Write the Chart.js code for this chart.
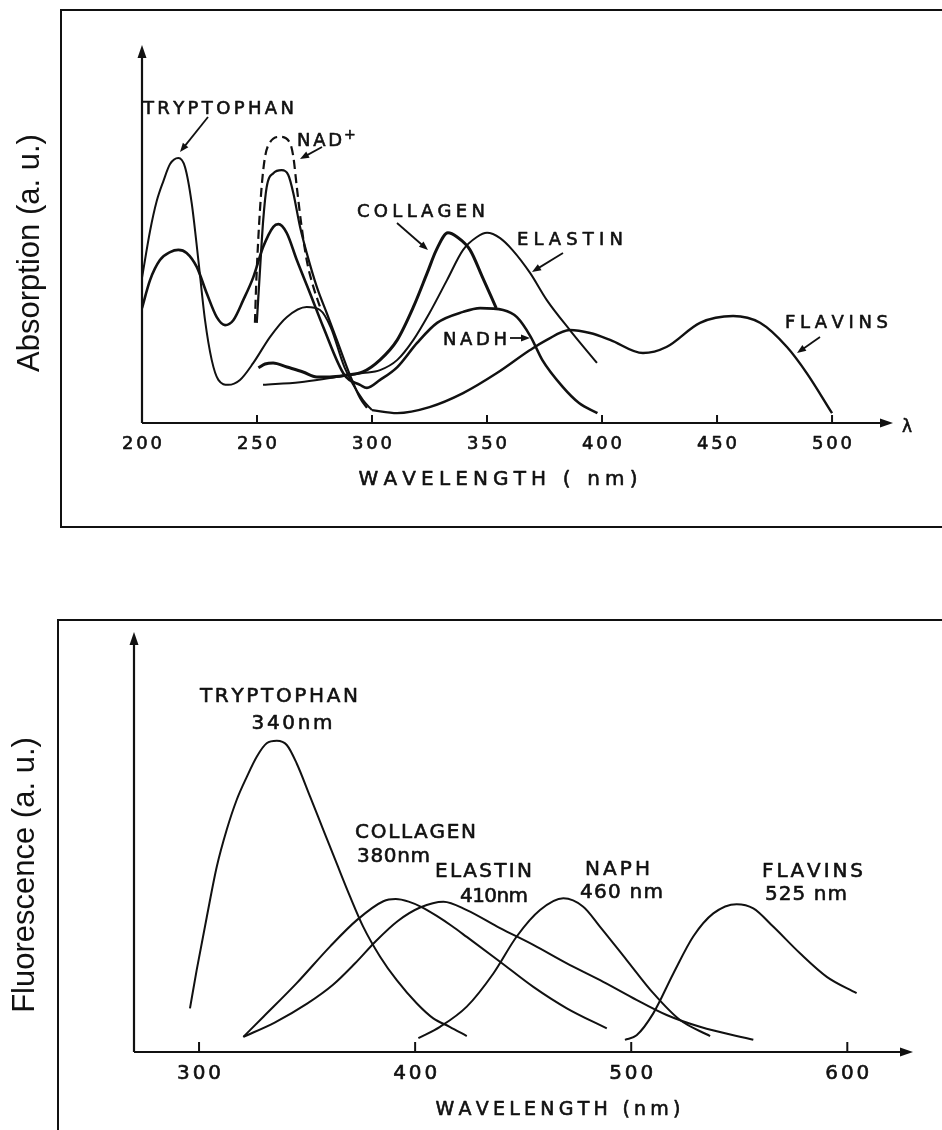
<!DOCTYPE html>
<html>
<head>
<meta charset="utf-8">
<script src="https://cdn.jsdelivr.net/npm/chart.js@4.4.1/dist/chart.umd.min.js"></script>
<style>
  html, body { margin: 0; padding: 0; background: #fff; }
  body { width: 942px; height: 1130px; position: relative; overflow: hidden; }
  .frame { position: absolute; border: 2.5px solid #111; box-sizing: border-box; }
  canvas { position: absolute; left: 0; }
</style>
</head>
<body>
<div class="frame" style="left:60px; top:9px; width:920px; height:519px;"></div>
<div class="frame" style="left:57px; top:619px; width:920px; height:620px;"></div>
<canvas id="abs" width="942" height="540" style="top:0"></canvas>
<canvas id="flu" width="942" height="590" style="top:540px"></canvas>
<script>
// ---------- Absorption spectra (wavelength in nm, absorption in a.u.) ----------
const absTicks = [200, 250, 300, 350, 400, 450, 500];

const trpAbsNm = [200, 203.5, 206.4, 209.3, 212.2, 215.8, 218.7, 221.6, 224.5, 227.4, 230.3, 233.2, 237.5, 242.6, 248.4, 255.7, 262.9, 271.6, 277.4, 282, 288, 296, 300];
const trpAbs   = [38.4, 50.8, 58.7, 64.0, 68.5, 70.1, 67.7, 58.2, 43.1, 27.2, 16.7, 11.4, 10.1, 11.4, 15.9, 22.8, 28.0, 30.7, 29.9, 25.4, 14.8, 6.1, 3.4];

const nadhAbsNm = [200, 203.5, 207.8, 212.2, 215.8, 219.4, 223.8, 228.1, 232.5, 236.1, 239.7, 244, 248.4, 252.7, 257.1, 259.3, 262.9, 267.3, 273, 278.8, 288, 294.8, 297.8, 303.5, 311, 319.6, 328.3, 339.6, 347, 357, 363, 369, 374, 383, 390, 398];
const nadhAbs   = [30.4, 37.8, 43.1, 45.2, 45.8, 45.0, 41.3, 34.4, 28.0, 25.9, 27.2, 32.5, 38.6, 46.6, 51.9, 52.6, 50.3, 43.1, 34.4, 25.4, 12.7, 10.1, 9.3, 11.4, 14.8, 21.2, 26.5, 29.4, 30.4, 29.9, 28.0, 22.8, 16.7, 9.5, 5.3, 2.6];

const nadAbsNm = [249.9, 251.3, 252.7, 254.2, 257.1, 260.7, 263.6, 265.8, 268.7, 271.6, 276, 280.3, 284.7, 290.4, 294.8, 297.8];
const nadAbs   = [26.5, 40.5, 53.7, 62.4, 66.1, 66.9, 65.6, 60.8, 51.9, 45.0, 36.0, 29.1, 22.0, 12.7, 6.6, 4.0];

const nadDashNm = [249.1, 249.6, 250.6, 252, 253.5, 255.7, 260, 264.3, 265.8, 267.3, 269.4, 271.6, 274.5, 277.4];
const nadDash   = [26.5, 36.0, 49.2, 62.4, 70.4, 74.3, 75.7, 74.1, 70.4, 62.4, 51.9, 43.1, 36.0, 30.7];

const colAbsNm = [250.6, 253.5, 257, 263, 270, 276, 281.7, 289, 296, 303.5, 311, 318, 324, 328, 333, 337, 342.6, 348, 354];
const colAbs   = [14.6, 15.6, 15.9, 14.8, 13.5, 12.2, 12.2, 12.7, 13.5, 16.7, 22.0, 30.7, 39.7, 45.8, 50.3, 49.2, 45.8, 38.6, 30.4];

const elaAbsNm = [252.6, 268.7, 281.7, 290.4, 296, 303.5, 311, 318, 325, 332.6, 339.6, 345.6, 350, 355.7, 361, 368.7, 376, 386, 397.8];
const elaAbs   = [10.1, 10.8, 11.9, 12.7, 13.2, 14.0, 16.7, 22.0, 29.1, 37.8, 45.8, 49.2, 50.3, 48.9, 45.8, 39.7, 32.5, 24.6, 15.9];

const flaAbsNm = [300, 310.9, 325, 339.6, 354.3, 368.7, 376, 386, 394.8, 403.5, 417.8, 428, 442.6, 457, 468.7, 480.4, 489, 500];
const flaAbs   = [3.4, 2.6, 4.2, 7.9, 13.2, 19.3, 22.0, 24.6, 23.8, 22.0, 18.5, 20.1, 26.5, 28.3, 26.5, 20.1, 13.2, 2.6];

// ---------- Fluorescence spectra (wavelength in nm, fluorescence in a.u.) ----------
const fluTicks = [300, 400, 500, 600];

const trpFluNm = [295.8, 298.9, 303.6, 308.2, 312.8, 317.4, 322.1, 326.7, 331.3, 336, 340.6, 345.2, 351.4, 357.5, 363.7, 369.9, 376, 383.8, 391.5, 400.7, 408.4, 416, 423.9];
const trpFlu   = [10.4, 19.5, 32.2, 44.1, 52.9, 60.0, 65.5, 70.3, 73.5, 74.1, 73.1, 68.7, 60.8, 52.9, 44.9, 37.0, 29.8, 22.7, 17.1, 11.6, 8.0, 6.0, 3.8];

const colFluNm = [320.5, 329.8, 345.2, 360.6, 373, 385.3, 391, 397, 403, 410, 417, 423.9, 439.3, 454.7, 470.2, 488.7];
const colFlu   = [3.6, 8.4, 16.4, 25.1, 31.4, 35.9, 36.4, 35.8, 34.5, 32.4, 30.0, 27.4, 21.5, 15.5, 10.4, 5.6];

const elaFluNm = [320.5, 335, 350, 362, 372, 382, 392, 402.3, 413.1, 423.9, 439.3, 454.7, 470.2, 485.6, 501, 516.4, 531.8, 556.5];
const elaFlu   = [3.6, 7.0, 11.5, 16.0, 21.0, 26.5, 31.2, 34.4, 35.8, 33.8, 29.5, 25.5, 21.1, 17.1, 12.8, 8.8, 6.0, 2.9];

const naphFluNm = [401.5, 411.5, 423.9, 436.2, 447, 457.8, 468.6, 477.8, 485.6, 497.9, 510.2, 522.6, 536.5];
const naphFlu   = [3.3, 6.0, 10.8, 18.7, 27.5, 33.8, 36.6, 34.6, 29.8, 21.9, 14.0, 7.6, 3.8];

const flaFluNm = [497.1, 502.5, 510.2, 519.5, 528.7, 538, 548.8, 556.5, 565.8, 578.1, 590.5, 604.3];
const flaFlu   = [2.9, 4.0, 9.2, 18.7, 27.5, 33.0, 35.2, 34.2, 29.8, 23.5, 17.9, 14.0];

const INK = '#111';
const LETTER_FONT = '"DejaVu Sans", sans-serif';

function pts(xs, ys) { return xs.map((x, i) => ({ x, y: ys[i] })); }

function series(xs, ys, extra) {
  return Object.assign({
    data: pts(xs, ys), borderColor: INK, borderWidth: 2, pointRadius: 0,
    cubicInterpolationMode: 'monotone', fill: false
  }, extra || {});
}

// Draw a string with its letters spread so that it spans the given width.
function spacedText(ctx, str, x, y, width, align) {
  const chars = [...str];
  const widths = chars.map(c => ctx.measureText(c).width);
  const natural = widths.reduce((a, b) => a + b, 0);
  const sp = (chars.length > 1 && width) ? (width - natural) / (chars.length - 1) : 0;
  const total = natural + sp * (chars.length - 1);
  let cx = align === 'center' ? x - total / 2 : align === 'right' ? x - total : x;
  ctx.textAlign = 'left';
  ctx.lineWidth = 0.6;
  ctx.lineJoin = 'round';
  chars.forEach((c, i) => {
    ctx.fillText(c, cx, y);
    ctx.strokeText(c, cx, y);
    cx += widths[i] + sp;
  });
}

function arrowHead(ctx, x, y, ang, len, half) {
  ctx.beginPath();
  ctx.moveTo(x, y);
  ctx.lineTo(x - len * Math.cos(ang) + half * Math.sin(ang), y - len * Math.sin(ang) - half * Math.cos(ang));
  ctx.lineTo(x - len * Math.cos(ang) - half * Math.sin(ang), y - len * Math.sin(ang) + half * Math.cos(ang));
  ctx.closePath();
  ctx.fill();
}

function pointer(ctx, x1, y1, x2, y2) {
  const a = Math.atan2(y2 - y1, x2 - x1);
  ctx.lineWidth = 1.8;
  ctx.beginPath();
  ctx.moveTo(x1, y1);
  ctx.lineTo(x2 - 5 * Math.cos(a), y2 - 5 * Math.sin(a));
  ctx.stroke();
  arrowHead(ctx, x2, y2, a, 9, 3.5);
}

// Axes with arrows, inward ticks, tick labels, titles and callouts.
const decorPlugin = {
  id: 'decor',
  afterDraw(chart, args, o) {
    const ctx = chart.ctx;
    const xs = chart.scales.x, ys = chart.scales.y;
    const x0 = xs.getPixelForValue(xs.min), x1 = xs.getPixelForValue(xs.max);
    const y0 = ys.getPixelForValue(0), y1 = ys.getPixelForValue(ys.max);
    ctx.save();
    ctx.strokeStyle = INK; ctx.fillStyle = INK; ctx.lineCap = 'butt';

    // axes
    ctx.lineWidth = 2.2;
    ctx.beginPath();
    ctx.moveTo(x0, y0); ctx.lineTo(x0, y1 + 8);
    ctx.moveTo(x0, y0); ctx.lineTo(x1 - 8, y0);
    ctx.stroke();
    arrowHead(ctx, x0, y1, -Math.PI / 2, 13, 4.5);
    arrowHead(ctx, x1, y0, 0, 13, 4.5);

    // ticks + labels
    ctx.font = o.tickFont + 'px ' + LETTER_FONT;
    ctx.textBaseline = 'alphabetic';
    o.ticks.forEach(v => {
      const px = xs.getPixelForValue(v);
      if (v !== xs.min) {
        ctx.lineWidth = 2;
        ctx.beginPath(); ctx.moveTo(px, y0); ctx.lineTo(px, y0 - o.tickLen); ctx.stroke();
      }
      spacedText(ctx, String(v), px, y0 + o.tickOffset, o.tickWidth, 'center');
    });

    // x title
    ctx.font = o.xTitle.size + 'px ' + LETTER_FONT;
    spacedText(ctx, o.xTitle.text, o.xTitle.x, o.xTitle.y, o.xTitle.width, 'center');

    // end-of-axis symbol
    if (o.axisSymbol) {
      ctx.font = o.axisSymbol.size + 'px ' + LETTER_FONT;
      spacedText(ctx, o.axisSymbol.text, o.axisSymbol.x, o.axisSymbol.y, 0, 'left');
    }

    // y title (rotated)
    ctx.save();
    ctx.font = o.yTitle.size + 'px "Liberation Sans", Arial, sans-serif';
    ctx.translate(o.yTitle.x, o.yTitle.y);
    ctx.rotate(-Math.PI / 2);
    ctx.textAlign = 'center';
    ctx.fillText(o.yTitle.text, 0, 0);
    ctx.restore();

    // callout texts
    o.labels.forEach(l => {
      ctx.font = l.size + 'px ' + LETTER_FONT;
      spacedText(ctx, l.text, l.x, l.y, l.width, l.align || 'left');
    });
    // callout arrows
    o.pointers.forEach(p => pointer(ctx, p[0], p[1], p[2], p[3]));
    ctx.restore();
  }
};

const common = {
  responsive: false, animation: false, events: [],
  plugins: { legend: { display: false }, tooltip: { enabled: false } }
};

// ---------- Absorption chart ----------
new Chart(document.getElementById('abs'), {
  type: 'line',
  data: {
    datasets: [
      series(trpAbsNm, trpAbs, { borderWidth: 2 }),
      series(nadhAbsNm, nadhAbs, { borderWidth: 2.6 }),
      series(nadAbsNm, nadAbs, { borderWidth: 2.2 }),
      series(nadDashNm, nadDash, { borderWidth: 2.2, borderDash: [9, 5] }),
      series(colAbsNm, colAbs, { borderWidth: 3 }),
      series(elaAbsNm, elaAbs, { borderWidth: 2 }),
      series(flaAbsNm, flaAbs, { borderWidth: 2.4 })
    ]
  },
  options: Object.assign({}, common, {
    layout: { padding: { left: 142, right: 49, top: 45, bottom: 117 } },
    scales: {
      x: { type: 'linear', min: 200, max: 526.5, display: false },
      y: { type: 'linear', min: 0, max: 100, display: false }
    },
    plugins: Object.assign({}, common.plugins, {
      decor: {
        ticks: absTicks, tickLen: 8, tickOffset: 26, tickWidth: 40, tickFont: 18,
        xTitle: { text: 'WAVELENGTH ( nm)', x: 498, y: 485, width: 279, size: 20 },
        axisSymbol: { text: 'λ', x: 902, y: 432, size: 17 },
        yTitle: { text: 'Absorption (a. u.)', x: 39, y: 253, size: 31 },
        labels: [
          { text: 'TRYPTOPHAN', x: 143, y: 114, width: 151, size: 18 },
          { text: 'NAD', x: 297, y: 146, width: 45, size: 18 },
          { text: '+', x: 344, y: 139, width: 0, size: 14 },
          { text: 'COLLAGEN', x: 357, y: 217, width: 128, size: 18 },
          { text: 'ELASTIN', x: 517, y: 245, width: 106, size: 18 },
          { text: 'NADH', x: 443, y: 345, width: 64, size: 18 },
          { text: 'FLAVINS', x: 785, y: 328, width: 103, size: 18 }
        ],
        pointers: [
          [208, 117, 180, 152],
          [322, 147, 300, 159],
          [397, 223, 428, 250],
          [563, 253, 532, 272],
          [510, 338, 530, 338],
          [820, 337, 797, 353]
        ]
      }
    })
  }),
  plugins: [decorPlugin]
});

// ---------- Fluorescence chart ----------
new Chart(document.getElementById('flu'), {
  type: 'line',
  data: {
    datasets: [
      series(trpFluNm, trpFlu),
      series(colFluNm, colFlu),
      series(elaFluNm, elaFlu),
      series(naphFluNm, naphFlu),
      series(flaFluNm, flaFlu)
    ]
  },
  options: Object.assign({}, common, {
    layout: { padding: { left: 134, right: 29, top: 92, bottom: 78 } },
    scales: {
      x: { type: 'linear', min: 269.9, max: 630.4, display: false },
      y: { type: 'linear', min: 0, max: 100, display: false }
    },
    plugins: Object.assign({}, common.plugins, {
      decor: {
        ticks: fluTicks, tickLen: 10, tickOffset: 27, tickWidth: 44, tickFont: 20,
        xTitle: { text: 'WAVELENGTH (nm)', x: 558, y: 575, width: 245, size: 19 },
        axisSymbol: null,
        yTitle: { text: 'Fluorescence (a. u.)', x: 34, y: 335, size: 31 },
        labels: [
          { text: 'TRYPTOPHAN', x: 200, y: 162, width: 158, size: 20 },
          { text: '340nm', x: 292, y: 189, width: 81, size: 20, align: 'center' },
          { text: 'COLLAGEN', x: 355, y: 298, width: 121, size: 20 },
          { text: '380nm', x: 357, y: 322, width: 73, size: 20 },
          { text: 'ELASTIN', x: 435, y: 337, width: 97, size: 20 },
          { text: '410nm', x: 460, y: 362, width: 68, size: 20 },
          { text: 'NAPH', x: 585, y: 335, width: 65, size: 20 },
          { text: '460 nm', x: 580, y: 358, width: 83, size: 20 },
          { text: 'FLAVINS', x: 762, y: 337, width: 101, size: 20 },
          { text: '525 nm', x: 765, y: 360, width: 82, size: 20 }
        ],
        pointers: []
      }
    })
  }),
  plugins: [decorPlugin]
});
</script>
</body>
</html>
